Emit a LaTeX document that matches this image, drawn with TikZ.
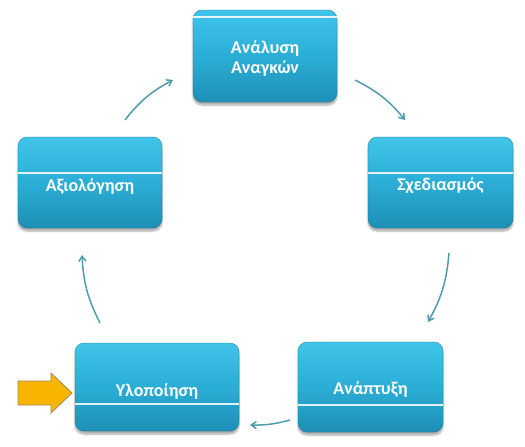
\documentclass[tikz,border=0pt]{standalone}
\usepackage{fontspec}
\setmainfont{Carlito}
\usetikzlibrary{arrows.meta,shadows.blur}
\definecolor{boxtop}{HTML}{40C4EA}
\definecolor{boxmid}{HTML}{2BAED6}
\definecolor{boxbot}{HTML}{1E8FB6}
\definecolor{arrowc}{HTML}{4E9CAE}
\definecolor{orangef}{HTML}{F7B500}
\definecolor{oranged}{HTML}{9C8A5C}
\tikzset{
  stage/.style={rectangle, rounded corners=9pt, top color=boxtop, bottom color=boxbot, middle color=boxmid,
    draw=boxbot!80!black, line width=0.3pt,
    blur shadow={shadow xshift=0pt, shadow yshift=-3pt, shadow blur steps=6, shadow opacity=35},
    inner sep=0pt},
  lbl/.style={text=white, font=\bfseries\fontsize{18}{20}\selectfont, align=center},
  gloss/.style={white, line width=1.1pt, opacity=0.85},
  cyc/.style={arrowc, line width=1.5pt, -{Straight Barb[length=5pt,width=7pt]}},
  entryarrow/.style={fill=orangef, draw=oranged, line width=0.8pt, line join=miter},
}
\begin{document}
\begin{tikzpicture}[x=1pt,y=-1pt]
\useasboundingbox (0,0) rectangle (525,447);
% boxes
\node[stage, minimum width=144pt, minimum height=92pt] (an) at (265,56) {};
\node[stage, minimum width=145pt, minimum height=91pt] (sx) at (440.5,182.5) {};
\node[stage, minimum width=144pt, minimum height=91pt] (ax) at (90,182.5) {};
\node[stage, minimum width=164pt, minimum height=88pt] (yl) at (157,387) {};
\node[stage, minimum width=145pt, minimum height=90pt] (ap) at (370.5,387) {};
% gloss lines
\draw[gloss] (an.west |- 0,17) -- (an.east |- 0,17);
\draw[gloss] (sx.west |- 0,173) -- (sx.east |- 0,173);
\draw[gloss] (ax.west |- 0,173) -- (ax.east |- 0,173);
\draw[gloss] (yl.west |- 0,404) -- (yl.east |- 0,404);
\draw[gloss] (ap.west |- 0,405) -- (ap.east |- 0,405);
% labels
\node[lbl] (tan) at (265,58) {Ανάλυση\\Αναγκών};
\node[lbl] (tsx) at (440.5,186) {Σχεδιασμός};
\node[lbl] (tax) at (90,186) {Αξιολόγηση};
\node[lbl] (tyl) at (157,391) {Υλοποίηση};
\node[lbl] (tap) at (370.5,389) {Ανάπτυξη};
% cycle arrows
\coordinate (c1a) at (355,80);  \coordinate (c1b) at (405,120);
\coordinate (c2a) at (449,253); \coordinate (c2b) at (428,322);
\coordinate (c3a) at (290,420); \coordinate (c3b) at (250,425);
\coordinate (c4a) at (100,323); \coordinate (c4b) at (82,255);
\coordinate (c5a) at (125,120); \coordinate (c5b) at (173,80);
\draw[cyc] (c1a) to[bend left=12] (c1b);
\draw[cyc] (c2a) to[bend left=12] (c2b);
\draw[cyc] (c3a) to[bend left=8] (c3b);
\draw[cyc] (c4a) to[bend left=12] (c4b);
\draw[cyc] (c5a) to[bend left=12] (c5b);
% entry arrow
\draw[entryarrow] (18,381) -- (51,381) -- (51,373) -- (72,393) -- (51,413) -- (51,405) -- (18,405) -- cycle;
\end{tikzpicture}
\end{document}
